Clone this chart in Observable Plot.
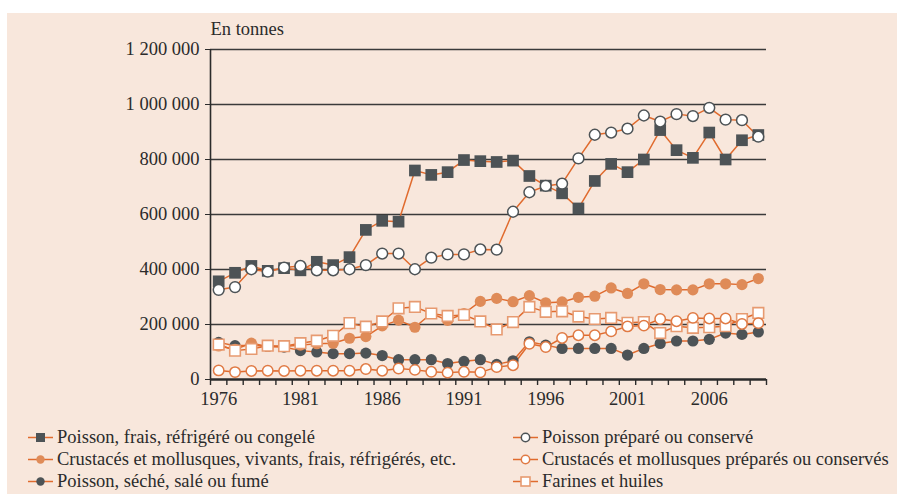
<!DOCTYPE html>
<html><head><meta charset="utf-8">
<script src="https://cdn.jsdelivr.net/npm/d3@7"></script>
<script src="https://cdn.jsdelivr.net/npm/@observablehq/plot@0.6"></script>
<style>
body{margin:0;background:#fff;width:904px;height:494px;overflow:hidden;position:relative;font-family:"Liberation Serif","Times New Roman","DejaVu Serif",serif;}
#panel{position:absolute;left:7px;top:13px;width:890px;height:481px;background:#f8e7dc;}
#chart{position:absolute;left:0;top:0;}
.legend{position:absolute;font-size:18.5px;color:#2b2b2b;}
.row{height:22px;display:flex;align-items:center;white-space:nowrap}
.row svg{margin-right:4px;flex:none}
</style></head><body>
<div id="panel"></div><div id="chart"></div>
<div class="legend" id="legL" style="left:28px;top:426px"></div>
<div class="legend" id="legR" style="left:513px;top:426px"></div>
<script>
const years = [1976,1977,1978,1979,1980,1981,1982,1983,1984,1985,1986,1987,1988,1989,1990,1991,1992,1993,1994,1995,1996,1997,1998,1999,2000,2001,2002,2003,2004,2005,2006,2007,2008,2009];
const yearLabels = [1976,1981,1986,1991,1996,2001,2006];
const yTicks = [0,200000,400000,600000,800000,1000000,1200000];

// values in thousand tonnes
const poissonFrais = [357,388,413,395,405,397,428,416,445,544,577,574,760,744,754,798,794,791,796,740,705,677,622,722,784,754,800,907,834,806,898,800,870,889];
const poissonPrepare = [326,336,401,392,407,413,397,397,401,416,458,458,401,443,455,455,473,472,610,681,704,712,804,890,898,912,960,938,965,958,988,945,943,883];
const crustVivants = [122,110,132,120,120,125,130,132,150,156,195,216,190,240,215,240,284,295,283,305,279,282,299,303,333,313,348,327,326,326,348,348,345,367];
const crustPrepares = [33,27,31,32,31,32,32,32,32,38,32,40,35,28,25,28,26,45,52,130,118,151,161,161,175,193,196,220,212,224,222,222,202,205];
const poissonSeche = [135,123,125,120,118,105,100,94,94,96,87,72,72,72,58,66,72,55,68,137,125,113,113,113,113,89,113,131,140,140,146,169,164,173];
const farinesHuiles = [127,105,111,123,121,132,141,159,205,192,211,259,264,240,231,235,211,182,209,264,246,248,229,220,224,206,209,169,194,188,190,194,220,242];

const names = {
  frais: "Poisson, frais, réfrigéré ou congelé",
  vivants: "Crustacés et mollusques, vivants, frais, réfrigérés, etc.",
  seche: "Poisson, séché, salé ou fumé",
  prepare: "Poisson préparé ou conservé",
  crustPrep: "Crustacés et mollusques préparés ou conservés",
  farines: "Farines et huiles"
};
const seriesValues = {frais: poissonFrais, vivants: crustVivants, seche: poissonSeche, prepare: poissonPrepare, crustPrep: crustPrepares, farines: farinesHuiles};

const DARK = "#4d5356", ORANGE = "#e06b2e", ORANGE_FILL = "#df8b58", ORANGE_LIGHT = "#e79a70";
const styles = {
  frais: {symbol: "square", r: 6.6, fill: DARK, stroke: "none", sw: 0},
  seche: {symbol: "circle", r: 5.6, fill: DARK, stroke: "none", sw: 0},
  vivants: {symbol: "circle", r: 5.6, fill: ORANGE_FILL, stroke: "none", sw: 0},
  farines: {symbol: "square", r: 6.0, fill: "#fff", stroke: ORANGE_LIGHT, sw: 1.6},
  crustPrep: {symbol: "circle", r: 5.2, fill: "#fff", stroke: "#e07a44", sw: 1.5},
  prepare: {symbol: "circle", r: 5.4, fill: "#fff", stroke: DARK, sw: 1.5}
};
const drawOrder = ["frais","seche","vivants","farines","crustPrep","prepare"];

const table = [];
for (const k of Object.keys(seriesValues)) seriesValues[k].forEach((v, i) => table.push({series: k, year: years[i], value: v * 1000}));

const fmt = d => d3.format(",")(d).replace(/,/g, " ");
const bounds = years.map(y => y - 0.5).concat([years[years.length-1] + 0.5]);
const x0 = years[0] - 0.5, x1 = years[years.length-1] + 0.5;
const FONT = "'Liberation Serif', 'Times New Roman', 'DejaVu Serif', serif";

const marks = [
  Plot.ruleY(yTicks.slice(1), {x1: x0, x2: x1, stroke: "#3a3a3a", strokeWidth: 1.4}),
  Plot.ruleX([x0], {y1: 0, y2: 1200000, stroke: "#2b2b2b", strokeWidth: 1.6}),
  Plot.axisY({ticks: yTicks, tickSize: 5, tickPadding: 6, tickFormat: fmt, label: null, stroke: "#2b2b2b", fill: "#2b2b2b", fontSize: 18.5}),
  Plot.axisX({ticks: bounds, tickSize: 6, tickFormat: () => "", label: null, stroke: "#2b2b2b", strokeWidth: 1.4}),
  Plot.axisX({ticks: yearLabels, tickSize: 0, tickPadding: 12, tickFormat: d => String(d), label: null, fill: "#2b2b2b", fontSize: 18.5}),
  Plot.ruleY([0], {x1: x0, x2: x1, stroke: "#2b2b2b", strokeWidth: 2.6}),
  Plot.text(["En tonnes"], {frameAnchor: "top-left", dy: -15, lineAnchor: "bottom", textAnchor: "start", fill: "#2b2b2b", fontSize: 18.5}),
  Plot.line(table, {x: "year", y: "value", z: "series", stroke: ORANGE, strokeWidth: 1.5})
];
for (const k of drawOrder) {
  const s = styles[k];
  marks.push(Plot.dot(table.filter(d => d.series === k), {x: "year", y: "value", symbol: s.symbol, r: s.r, fill: s.fill, stroke: s.stroke, strokeWidth: s.sw}));
}

const chart = Plot.plot({
  width: 904, height: 412,
  marginLeft: 210, marginRight: 138, marginTop: 49, marginBottom: 33,
  style: {background: "transparent", fontFamily: FONT, fontSize: "18.5px", color: "#2b2b2b"},
  x: {type: "linear", domain: [x0, x1]},
  y: {domain: [0, 1200000]},
  marks
});
document.getElementById("chart").append(chart);

function legendRow(k) {
  const s = styles[k];
  const row = document.createElement("div");
  row.className = "row";
  let marker;
  if (s.symbol === "square") marker = `<rect x="8" y="3" width="9" height="9" fill="${s.fill}" stroke="${s.stroke}" stroke-width="${s.sw}"/>`;
  else marker = `<circle cx="12.5" cy="7.5" r="4.2" fill="${s.fill}" stroke="${s.stroke}" stroke-width="${s.sw}"/>`;
  row.innerHTML = `<svg width="25" height="15"><line x1="0" x2="25" y1="7.5" y2="7.5" stroke="${ORANGE}" stroke-width="1.5"/>${marker}</svg><span>${names[k]}</span>`;
  return row;
}
["frais","vivants","seche"].forEach(k => document.getElementById("legL").append(legendRow(k)));
["prepare","crustPrep","farines"].forEach(k => document.getElementById("legR").append(legendRow(k)));
</script></body></html>
